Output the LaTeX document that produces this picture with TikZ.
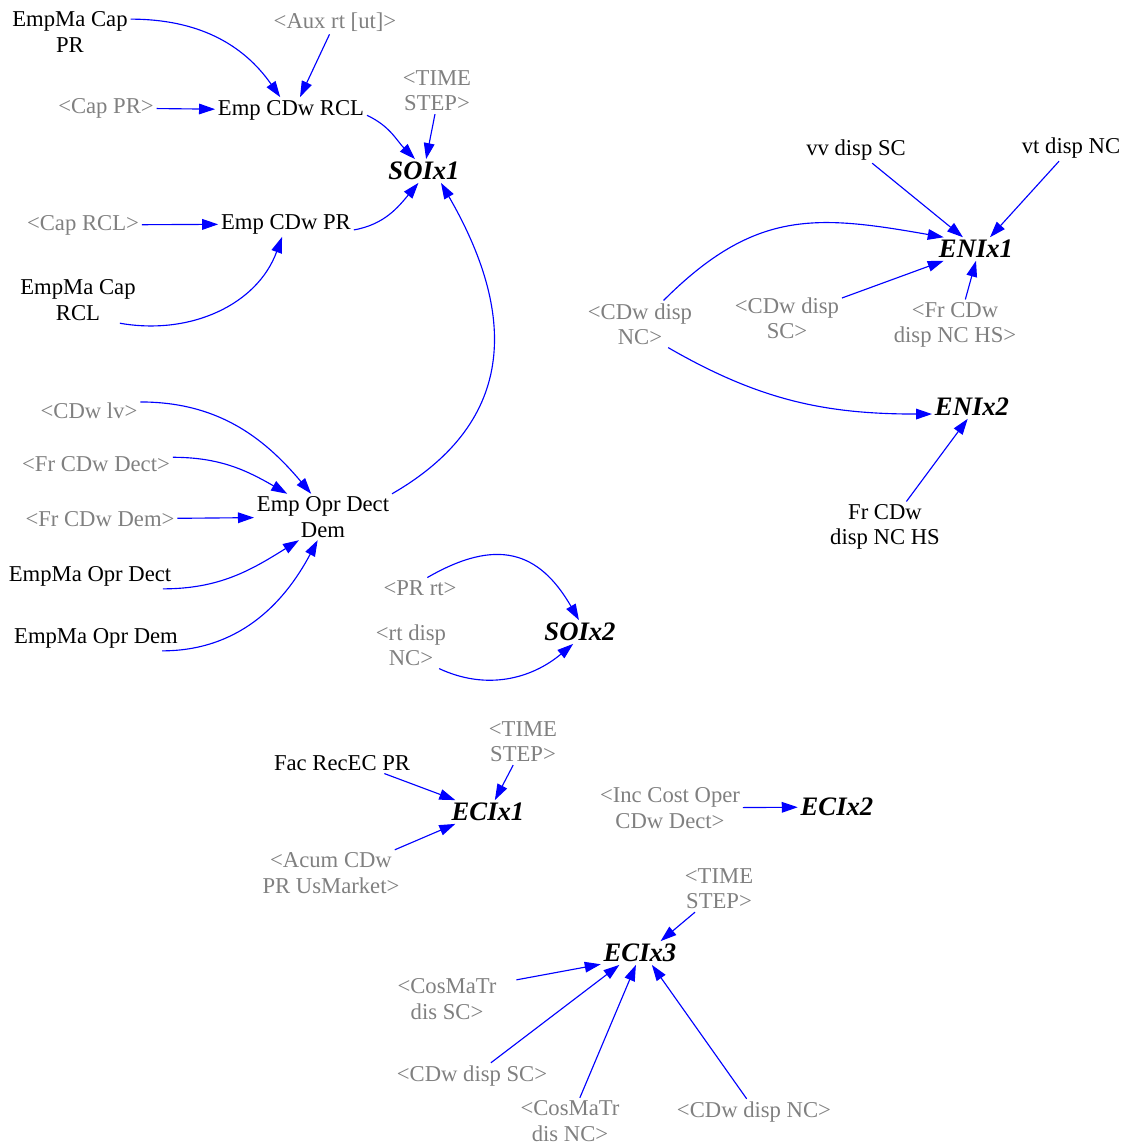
\documentclass[tikz,border=0pt]{standalone}
\usepackage{fontspec}
\setmainfont{Liberation Serif}
\usetikzlibrary{arrows.meta}
\definecolor{linkblue}{RGB}{0,0,255}
\definecolor{shadowgray}{RGB}{128,128,128}

\begin{document}
\begin{tikzpicture}[x=0.75pt,y=0.75pt,
  every node/.style={inner sep=2pt, align=center, font=\fontsize{17}{19}\selectfont},
  var/.style={text=black},
  shadow/.style={text=shadowgray},
  goal/.style={text=black, font=\fontsize{20}{22}\selectfont\bfseries\itshape},
  link/.style={draw=linkblue, line width=0.85pt, -{Triangle[length=12pt,width=8pt]}},
]
\useasboundingbox (0,0) rectangle (1126,-1146);

% ---- SOIx1 block ----
\node[var]    (empmacappr)  at (70,-32)   {EmpMa Cap\\PR};
\node[shadow] (auxrt)       at (335,-22)  {<Aux rt [ut]>};
\node[shadow] (cappr)       at (106,-108) {<Cap PR>};
\node[var]    (empcdwrcl)   at (291,-110) {Emp CDw RCL};
\node[shadow] (time1)       at (437,-91)  {<TIME\\STEP>};
\node[goal]   (soix1)       at (424,-171) {SOIx1};
\node[shadow] (caprcl)      at (83,-225)  {<Cap RCL>};
\node[var]    (empcdwpr)    at (286,-224) {Emp CDw PR};
\node[var]    (empmacaprcl) at (78,-300)  {EmpMa Cap\\RCL};
\node[shadow] (cdwlv)       at (89,-411)  {<CDw lv>};
\node[shadow] (frcdwdect)   at (96,-464)  {<Fr CDw Dect>};
\node[shadow] (frcdwdem)    at (100,-519) {<Fr CDw Dem>};
\node[var]    (empopr)      at (323,-517) {Emp Opr Dect\\Dem};
\node[var]    (empmaoprdect) at (90,-576) {EmpMa Opr Dect};
\node[var]    (empmaoprdem) at (96,-638)  {EmpMa Opr Dem};

% ---- SOIx2 block ----
\node[shadow] (prrt)        at (420,-588) {<PR rt>};
\node[shadow] (rtdispnc)    at (411,-645) {<rt disp\\NC>};
\node[goal]   (soix2)       at (580,-632) {SOIx2};

% ---- ENIx block ----
\node[var]    (vvdispsc)    at (856,-150) {vv disp SC};
\node[var]    (vtdispnc)    at (1071,-148) {vt disp NC};
\node[goal]   (enix1)       at (976,-249) {ENIx1};
\node[shadow] (cdwdispnc)   at (640,-324) {<CDw disp\\NC>};
\node[shadow] (cdwdispsc)   at (787,-318) {<CDw disp\\SC>};
\node[shadow] (frhsshadow)  at (955,-325) {<Fr CDw\\disp NC HS>};
\node[goal]   (enix2)       at (972,-407) {ENIx2};
\node[var]    (frhs)        at (885,-527) {Fr CDw\\disp NC HS};

% ---- ECIx block ----
\node[shadow] (time2)       at (523,-742) {<TIME\\STEP>};
\node[var]    (facrec)      at (342,-763) {Fac RecEC PR};
\node[goal]   (ecix1)       at (488,-812) {ECIx1};
\node[shadow] (acum)        at (331,-873) {<Acum CDw\\PR UsMarket>};
\node[shadow] (inccost)     at (670,-808) {<Inc Cost Oper\\CDw Dect>};
\node[goal]   (ecix2)       at (837,-807) {ECIx2};
\node[shadow] (time3)       at (719,-889) {<TIME\\STEP>};
\node[goal]   (ecix3)       at (640,-953) {ECIx3};
\node[shadow] (cosmasc)     at (447,-999) {<CosMaTr\\dis SC>};
\node[shadow] (cdwdispsc2)  at (472,-1076) {<CDw disp SC>};
\node[shadow] (cosmanc)     at (570,-1121) {<CosMaTr\\dis NC>};
\node[shadow] (cdwdispnc2)  at (754,-1112) {<CDw disp NC>};

% ---- links: SOIx1 ----
\draw[link] (empmacappr.12) to[out=0,in=125] (empcdwrcl.130);
\draw[link] (auxrt.-114) -- (empcdwrcl.55);
\draw[link] (cappr) -- (empcdwrcl);
\draw[link] (empcdwrcl.-4) to[out=-25,in=135] (soix1.127);
\draw[link] (time1.-95) -- (soix1.80);
\draw[link] (caprcl) -- (empcdwpr);
\draw[link] (empcdwpr.-5) to[out=10,in=-130] (soix1.-115);
\draw[link] (empmacaprcl.-29) to[out=-10,in=-110] (empcdwpr.-107);
\draw[link] (empopr.north east) to[out=30,in=-60,looseness=1.2] (soix1.-35);
\draw[link] (cdwlv.10) to[out=0,in=130] (empopr.117);
\draw[link] (frcdwdect.5) to[out=0,in=150] (empopr.147);
\draw[link] (frcdwdem) -- (empopr);
\draw[link] (empmaoprdect.-10) to[out=0,in=-148] (empopr.-136);
\draw[link] (empmaoprdem.-11) to[out=0,in=-118] (empopr.-103);

% ---- links: SOIx2 ----
\draw[link] (prrt.55) to[out=30,in=120,looseness=1.3] (soix2.95);
\draw[link] (rtdispnc.-40) to[out=-25,in=-140] (soix2.-120);

% ---- links: ENIx ----
\draw[link] (vvdispsc) -- (enix1.138);
\draw[link] (vtdispnc) -- (enix1.40);
\draw[link] (cdwdispnc.45) to[out=45,in=170,looseness=1.15] (enix1.160);
\draw[link] (cdwdispsc.20) -- (enix1.-160);
\draw[link] (frhsshadow.68) -- (enix1.-90);
\draw[link] (cdwdispnc.-40) to[out=-30,in=180] (enix2.-170);
\draw[link] (frhs.50) -- (enix2.-110);

% ---- links: ECIx ----
\draw[link] (facrec.-14) -- (ecix1.160);
\draw[link] (time2.-113) -- (ecix1.60);
\draw[link] (acum.20) -- (ecix1.-160);
\draw[link] (inccost) -- (ecix2);
\draw[link] (time3.-136) -- (ecix3.30);
\draw[link, shorten <=13pt] (cosmasc.17) -- (ecix3.-164);
\draw[link] (cdwdispsc2.35) -- (ecix3.-150);
\draw[link] (cosmanc.67) -- (ecix3.-109);
\draw[link] (cdwdispnc2.119) -- (ecix3.-45);
\end{tikzpicture}
\end{document}
